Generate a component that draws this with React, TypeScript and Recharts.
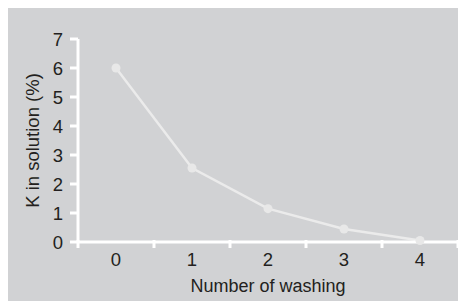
import React from 'react'
import { LineChart, Line, XAxis, YAxis } from 'recharts'

// ─── Data ────────────────────────────────────────────────────────

const washings = [0, 1, 2, 3, 4]
const potassium = [6.0, 2.55, 1.15, 0.45, 0.05]
const yTicks = [0, 1, 2, 3, 4, 5, 6, 7]

const data = washings.map((w, i) => ({ w, k: potassium[i] }))

const FONT = '"Liberation Sans", Arial, sans-serif'
const TEXT = '#231f20'
const AXIS = '#ffffff'

// category-style tick: label in the band centre, tick marks on the band edges
function BandTick(props: any) {
  const { x, y, payload, index, width, visibleTicksCount } = props
  const half = width / (visibleTicksCount * 2)
  const top = y - 10
  return (
    <g>
      <line x1={x - half} x2={x - half} y1={top} y2={top + 8} stroke={AXIS} strokeWidth={3} />
      {index === visibleTicksCount - 1 && (
        <line x1={x + half} x2={x + half} y1={top} y2={top + 8} stroke={AXIS} strokeWidth={3} />
      )}
      <text x={x} y={y + 3} dy="0.71em" textAnchor="middle" fill={TEXT} fontSize={18.5} fontFamily={FONT}>
        {payload.value}
      </text>
    </g>
  )
}

export default function App() {
  return (
    <div style={{ width: 458, height: 293, background: '#d1d2d4' }}>
      <LineChart width={458} height={293} data={data} margin={{ top: 31, right: 8, left: 0, bottom: 0 }}>
        <XAxis
          dataKey="w"
          type="number"
          domain={[-0.5, 4.5]}
          ticks={washings}
          axisLine={{ stroke: AXIS, strokeWidth: 3 }}
          tickLine={false}
          tick={<BandTick />}
          height={59}
          label={{ value: 'Number of washing', position: 'insideBottom', offset: 9, fill: TEXT, fontSize: 18, fontFamily: FONT }}
        />
        <YAxis
          type="number"
          domain={[0, 7]}
          ticks={yTicks}
          width={70}
          axisLine={{ stroke: AXIS, strokeWidth: 3 }}
          tickLine={{ stroke: AXIS, strokeWidth: 3 }}
          tickSize={8}
          tickMargin={7}
          tick={{ fill: TEXT, fontSize: 18.5, fontFamily: FONT }}
          label={{
            value: 'K in solution (%)',
            angle: -90,
            position: 'insideLeft',
            offset: 24,
            style: { textAnchor: 'middle' },
            fill: TEXT,
            fontSize: 18.5,
            fontFamily: FONT,
          }}
        />
        <Line
          dataKey="k"
          stroke="#ebebeb"
          strokeWidth={2.5}
          dot={{ r: 4.5, fill: '#e8e8e8', stroke: 'none' }}
          isAnimationActive={false}
        />
      </LineChart>
    </div>
  )
}
